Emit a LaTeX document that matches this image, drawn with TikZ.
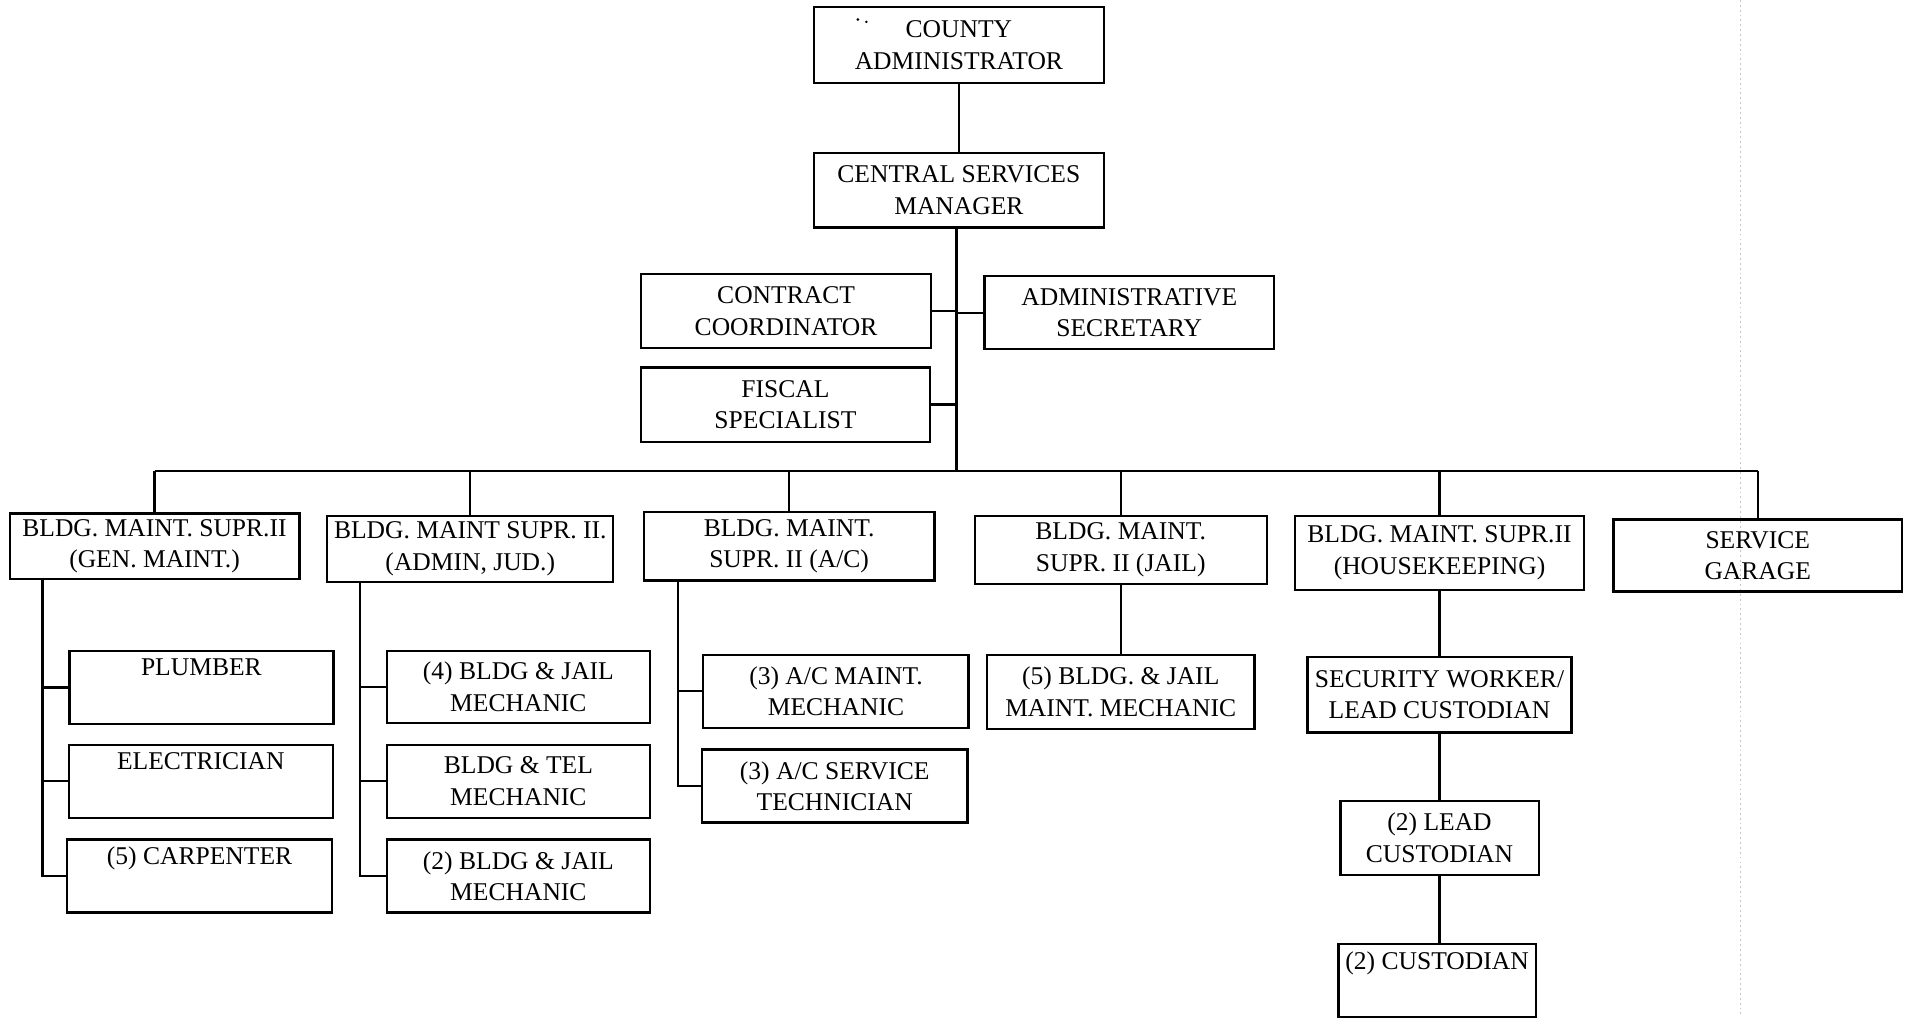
\documentclass[tikz,border=0pt]{standalone}
\usepackage{fontspec}
\setmainfont{Liberation Serif}
\begin{document}
\begin{tikzpicture}[x=1pt,y=-1pt,
  box/.style={draw, line width=1.9pt, inner sep=0pt, align=center,
    font=\fontsize{21}{26}\selectfont},
  sz/.style 2 args={minimum width=#1pt, minimum height=#2pt},
  link/.style={line width=1.9pt},
  scanline/.style={gray!45, line width=0.8pt, dash pattern=on 1.5pt off 2.5pt}]
\useasboundingbox (0,0) rectangle (1568,836);
\fill[white] (0,0) rectangle (1568,836);
\draw[scanline] (1430,0) -- (1430,836);

% top
\node[box, sz={238}{62}] (county) at (788,37) {COUNTY\\ADMINISTRATOR};
\fill (705,16) circle (1.3); \fill (712,18) circle (1.1);
\node[box, sz={238}{61}] (central) at (788,156.5) {CENTRAL SERVICES\\MANAGER};
\node[box, sz={238}{61}] (contract) at (646,255.5) {CONTRACT\\COORDINATOR};
\node[box, sz={238}{60}] (admsec) at (928,257) {ADMINISTRATIVE\\SECRETARY};
\node[box, sz={237}{61}] (fiscal) at (645.5,332.5) {FISCAL\\SPECIALIST};

% level 2
\node[box, sz={238}{54}] (A) at (127,449) {BLDG. MAINT. SUPR.II\\(GEN. MAINT.)};
\node[box, sz={235}{54}] (B) at (386.5,451) {BLDG. MAINT SUPR. II.\\(ADMIN, JUD.)};
\node[box, sz={239}{56}] (C) at (648.5,449) {BLDG. MAINT.\\SUPR. II (A/C)};
\node[box, sz={240}{56}] (D) at (921,452) {BLDG. MAINT.\\SUPR. II (JAIL)};
\node[box, sz={238}{61}] (E) at (1183,454.5) {BLDG. MAINT. SUPR.II\\(HOUSEKEEPING)};
\node[box, sz={237}{59}] (F) at (1444.5,456.5) {SERVICE\\GARAGE};

% under A
\node[box, sz={217}{60}] (plumb) at (165.5,565) {PLUMBER\\\strut};
\node[box, sz={217}{60}] (elec) at (165,642) {ELECTRICIAN\\\strut};
\node[box, sz={218}{60}] (carp) at (164,720) {(5) CARPENTER\\\strut};
% under B
\node[box, sz={216}{59}] (bj4) at (426,564.5) {(4) BLDG \& JAIL\\MECHANIC};
\node[box, sz={216}{60}] (btel) at (426,642) {BLDG \& TEL\\MECHANIC};
\node[box, sz={216}{60}] (bj2) at (426,720) {(2) BLDG \& JAIL\\MECHANIC};
% under C
\node[box, sz={218}{60}] (acm) at (687,568) {(3) A/C MAINT.\\MECHANIC};
\node[box, sz={218}{60}] (acs) at (686,646) {(3) A/C SERVICE\\TECHNICIAN};
% under D
\node[box, sz={220}{61}] (jail) at (921,568.5) {(5) BLDG. \& JAIL\\MAINT. MECHANIC};
% under E
\node[box, sz={217}{62}] (sec) at (1183,571) {SECURITY WORKER/\\LEAD CUSTODIAN};
\node[box, sz={163}{61}] (lead) at (1183,688.5) {(2) LEAD\\CUSTODIAN};
\node[box, sz={162}{60}] (cust) at (1181,806) {(2) CUSTODIAN\\\strut};

% connectors, top
\coordinate (bus) at (786,387);
\draw[link] (county.south) -- (central.north);
\draw[link] (central.south -| bus) -- (bus);
\draw[link] (contract.east) -- (contract.east -| bus);
\draw[link] (admsec.west) -- (admsec.west -| bus);
\draw[link] (fiscal.east) -- (fiscal.east -| bus);
\draw[link] (A.north |- bus) -- (F.north |- bus);
\foreach \n in {A,B,C,D,E,F} \draw[link] (\n.north) -- (\n.north |- bus);

% spines
\coordinate (sA) at (35,0);
\coordinate (sB) at (296,0);
\coordinate (sC) at (557,0);
\draw[link] (A.south -| sA) |- (carp.west);
\draw[link] (plumb.west) -- (plumb.west -| sA);
\draw[link] (elec.west) -- (elec.west -| sA);
\draw[link] (B.south -| sB) |- (bj2.west);
\draw[link] (bj4.west) -- (bj4.west -| sB);
\draw[link] (btel.west) -- (btel.west -| sB);
\draw[link] (C.south -| sC) |- (acs.west);
\draw[link] (acm.west) -- (acm.west -| sC);
\draw[link] (D.south) -- (jail.north);
\draw[link] (E.south) -- (sec.north);
\draw[link] (sec.south) -- (lead.north);
\draw[link] (lead.south) -- (lead.south |- cust.north);
\end{tikzpicture}
\end{document}
